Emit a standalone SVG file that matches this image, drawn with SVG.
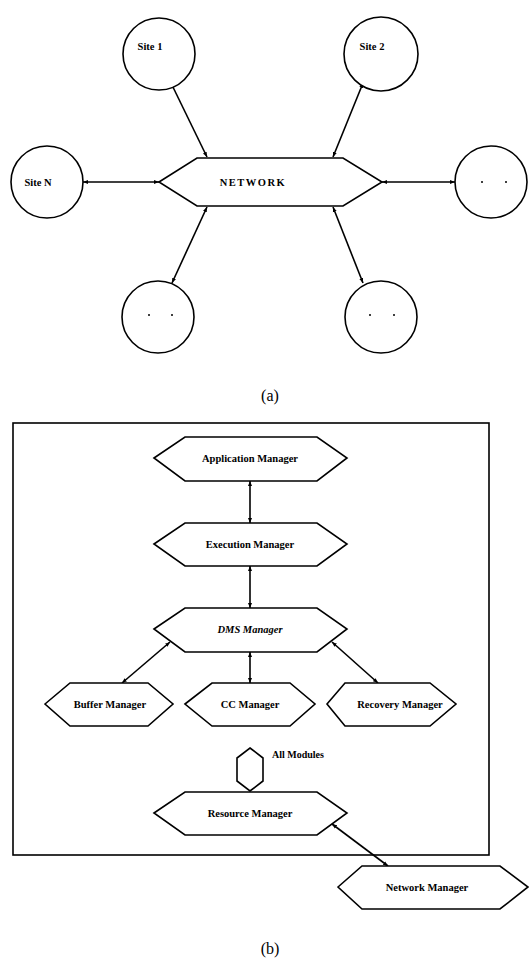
<svg xmlns="http://www.w3.org/2000/svg" width="529" height="959" viewBox="0 0 529 959">
<defs>
<marker id="ah" viewBox="0 0 10 10" refX="10" refY="5" markerWidth="5" markerHeight="5" orient="auto-start-reverse" markerUnits="userSpaceOnUse">
<path d="M0,1 L10,5 L0,9 z" fill="#000"/>
</marker>
</defs>
<style>
.shape{fill:#fff;stroke:#000;stroke-width:1.6;stroke-linejoin:miter}
.lbl{font-family:"Liberation Serif",serif;font-weight:bold;font-size:10.5px;fill:#000;text-anchor:middle}
.lbls{font-family:"Liberation Serif",serif;font-weight:bold;font-size:10px;fill:#000;text-anchor:start}
.cap{font-family:"Liberation Serif",serif;font-size:16px;fill:#000;text-anchor:middle}
.conn{stroke:#000;stroke-width:1.6;fill:none;marker-start:url(#ah);marker-end:url(#ah)}
.dot{fill:#000}
</style>
<rect width="529" height="959" fill="#fff"/>

<!-- Part (a) -->
<g id="connectors-a">
<line class="conn" x1="171" y1="83" x2="207" y2="157"/>
<line class="conn" x1="363" y1="83" x2="333" y2="157"/>
<line class="conn" x1="83" y1="182" x2="159" y2="182"/>
<line class="conn" x1="382" y1="182" x2="455" y2="182"/>
<line class="conn" x1="207" y1="207" x2="172" y2="283"/>
<line class="conn" x1="333" y1="207" x2="363" y2="283"/>
</g>
<g id="site1"><circle class="shape" cx="159" cy="54" r="36"/><text class="lbl" x="150" y="50" font-size="11">Site 1</text></g>
<g id="site2"><circle class="shape" cx="381" cy="54" r="37"/><text class="lbl" x="372" y="50" font-size="11">Site 2</text></g>
<g id="siteN"><circle class="shape" cx="47" cy="182" r="36"/><text class="lbl" x="38" y="186" font-size="11">Site N</text></g>
<g id="siteRight"><circle class="shape" cx="491" cy="182" r="36"/><circle class="dot" cx="482" cy="182" r="1"/><circle class="dot" cx="506" cy="182" r="1"/></g>
<g id="siteBL"><circle class="shape" cx="158" cy="317" r="36"/><circle class="dot" cx="149" cy="315" r="1"/><circle class="dot" cx="172" cy="315" r="1"/></g>
<g id="siteBR"><circle class="shape" cx="381" cy="317" r="36"/><circle class="dot" cx="370" cy="315" r="1"/><circle class="dot" cx="394" cy="315" r="1"/></g>
<g id="network"><polygon class="shape" points="159,182 197,158 343,158 382,182 343,206 197,206"/><text class="lbl" x="253" y="186" font-size="12.5" letter-spacing="1.5">NETWORK</text></g>
<text class="cap" x="270" y="401">(a)</text>

<!-- Part (b) -->
<g id="frame"><rect x="13" y="423" width="476" height="432" fill="none" stroke="#000" stroke-width="1.6"/></g>
<g id="connectors-b">
<line class="conn" x1="250" y1="481" x2="250" y2="523"/>
<line class="conn" x1="250" y1="566" x2="250" y2="608"/>
<line class="conn" x1="170" y1="642" x2="122" y2="683"/>
<line class="conn" x1="250" y1="652" x2="250" y2="683"/>
<line class="conn" x1="332" y1="642" x2="378" y2="683"/>
<line class="conn" x1="332" y1="824" x2="388" y2="866"/>
</g>
<g id="appManager"><polygon class="shape" points="154,458 185,437 317,437 347,458 317,481 185,481"/><text class="lbl" x="250" y="462">Application Manager</text></g>
<g id="execManager"><polygon class="shape" points="154,544 185,523 317,523 347,544 317,566 185,566"/><text class="lbl" x="250" y="548">Execution Manager</text></g>
<g id="dmsManager"><polygon class="shape" points="154,629 185,608 317,608 347,629 317,652 185,652"/><text class="lbl" x="250" y="633" font-style="italic">DMS Manager</text></g>
<g id="bufferManager"><polygon class="shape" points="45,704 70,683 148,683 173,704 148,726 70,726"/><text class="lbl" x="110" y="708">Buffer Manager</text></g>
<g id="ccManager"><polygon class="shape" points="185,704 212,683 290,683 315,704 290,726 212,726"/><text class="lbl" x="250" y="708">CC Manager</text></g>
<g id="recoveryManager"><polygon class="shape" points="327,704 345,683 430,683 456,704 430,726 345,726"/><text class="lbl" x="400" y="708">Recovery Manager</text></g>
<g id="allModules"><polygon class="shape" points="250,748 263,758 263,781 250,791 237,781 237,758"/><text class="lbls" x="272" y="758">All Modules</text></g>
<g id="resourceManager"><polygon class="shape" points="154,813 185,792 317,792 347,813 317,835 185,835"/><text class="lbl" x="250" y="817">Resource Manager</text></g>
<g id="networkManager"><polygon class="shape" points="338,887 362,866 500,866 528,887 500,909 362,909"/><text class="lbl" x="427" y="891">Network Manager</text></g>
<text class="cap" x="270" y="954">(b)</text>
</svg>
